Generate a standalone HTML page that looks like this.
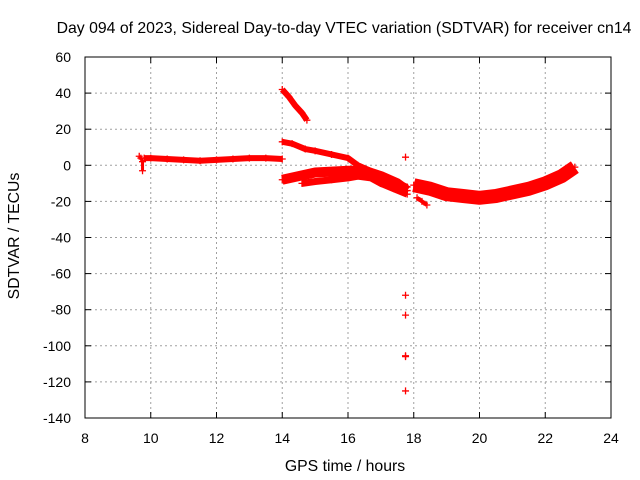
<!DOCTYPE html>
<html><head><meta charset="utf-8"><style>
body{margin:0;background:#fff}
svg{display:block;font-family:"Liberation Sans",sans-serif}
</style></head><body>
<svg id="c" width="640" height="480">
<text x="344" y="33" font-size="15.8" text-anchor="middle">Day 094 of 2023, Sidereal Day-to-day VTEC variation (SDTVAR) for receiver cn14</text>
<text x="345" y="471" font-size="15.8" text-anchor="middle">GPS time / hours</text>
<text transform="translate(19,236) rotate(-90)" font-size="15.8" text-anchor="middle">SDTVAR / TECUs</text>
<g id="grid"></g><g id="ticks"></g><g id="marks"></g>
<rect x="85" y="57" width="526" height="361" fill="none" stroke="#000" stroke-width="1"/>
</svg>
<script>
const xTicks=[8,10,12,14,16,18,20,22,24];
const yTicks=[60,40,20,0,-20,-40,-60,-80,-100,-120,-140];
const trackWidths=[3,6,6,6,10,7,14,4];
const trackX=[
[9.65,9.7,9.75,9.75],
[9.8,10,10.5,11,11.5,12,12.5,13,13.5,14],
[14,14.2,14.4,14.6,14.75],
[14,14.3,14.7,15,15.5,16,16.3,16.8,17.3,17.8],
[14,14.5,15,15.5,16,16.5,17,17.5,17.8],
[14.6,15,15.5,16,16.3,16.7,17,17.4,17.8],
[18,18.5,19,19.5,20,20.5,21,21.5,22,22.5,22.9],
[18.1,18.25,18.4]];
const trackY=[
[5,4,2,-3],
[4,4,3.5,3,2.5,3,3.5,4,4,3.5],
[42,38,33,29,25],
[13,12,9,8,6,4,0,-4,-8,-12],
[-8,-6,-4,-3.5,-3,-3,-6,-10,-14],
[-10,-9,-8,-7,-6,-7,-10,-13,-16],
[-11,-13,-16,-17,-18,-17,-15,-13,-10,-6,-1],
[-18,-20,-22]];
const outlierX=[17.75,17.75,17.75,17.75,17.75,17.75];
const outlierY=[4.5,-72,-83,-105.5,-106,-125];
const X=v=>85+(v-8)*526/16;
const Y=v=>57+(60-v)*361/200;
const NS="http://www.w3.org/2000/svg";
function mk(p,t,a){const e=document.createElementNS(NS,t);for(const k in a)e.setAttribute(k,a[k]);document.getElementById(p).appendChild(e);return e;}
xTicks.forEach(t=>{
 if(t>8&&t<24){const g=mk('grid','line',{x1:X(t),x2:X(t),y1:57,y2:418,stroke:'#a0a0a0','stroke-dasharray':'2,3'});
 
 }
 mk('ticks','line',{x1:X(t),x2:X(t),y1:418,y2:412,stroke:'#000'});
 mk('ticks','line',{x1:X(t),x2:X(t),y1:57,y2:63,stroke:'#000'});
 const l=mk('ticks','text',{x:X(t),y:443,'font-size':14,'text-anchor':'middle'});l.textContent=t;
 
 
});
yTicks.forEach(t=>{
 if(t<60&&t>-140){const g=mk('grid','line',{x1:85,x2:611,y1:Y(t),y2:Y(t),stroke:'#a0a0a0','stroke-dasharray':'2,3'});
 
 }
 mk('ticks','line',{x1:85,x2:91,y1:Y(t),y2:Y(t),stroke:'#000'});
 mk('ticks','line',{x1:611,x2:605,y1:Y(t),y2:Y(t),stroke:'#000'});
 const l=mk('ticks','text',{x:71,y:Y(t)+5,'font-size':14,'text-anchor':'end'});l.textContent=t;
 
 
});
function plus(x,y){const p=mk('marks','path',{d:`M${x-3.5},${y}h7M${x},${y-3.5}v7`,stroke:'#f00','stroke-width':1.3});
 
 }
trackX.forEach((xs,i)=>{
 const pts=xs.map((x,j)=>X(x)+','+Y(trackY[i][j])).join(' ');
 const pl=mk('marks','polyline',{points:pts,fill:'none',stroke:'#f00','stroke-width':trackWidths[i],'stroke-linejoin':'round'});
 
 
 xs.forEach((x,j)=>plus(X(x),Y(trackY[i][j])));
});
outlierX.forEach((x,i)=>plus(X(x),Y(outlierY[i])));
</script>
</body></html>
